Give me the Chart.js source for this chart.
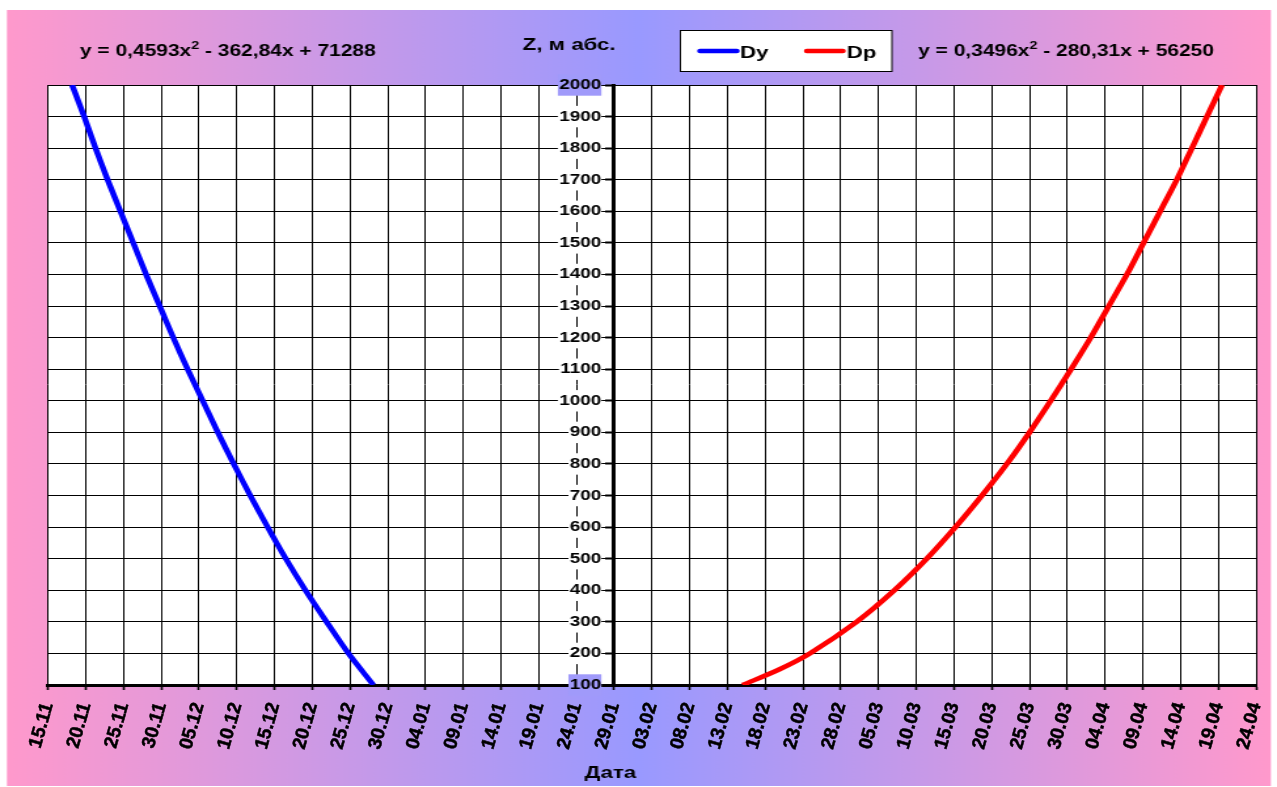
<!DOCTYPE html>
<html>
<head>
<meta charset="utf-8">
<script src="https://cdn.jsdelivr.net/npm/chart.js@4.4.1/dist/chart.umd.min.js"></script>
<style>
html, body { margin: 0; padding: 0; background: #fff; overflow: hidden; }
/* the reference is stretched sideways, so draw narrow and widen */
#wrap { position: absolute; left: 0; top: 0; width: 975px; height: 787px; transform: scaleX(1.30974); transform-origin: 0 0; }
/* date labels are not stretched in the reference, so they get their own layer */
#dateLabels { position: absolute; left: 0; top: 0; }
</style>
</head>
<body>
<div id="wrap"><canvas id="myChart" width="975" height="787"></canvas></div>
<canvas id="dateLabels" width="1277" height="787"></canvas>
<script>
const xTickLabels = [
	'15.11', '20.11', '25.11', '30.11', '05.12', '10.12', '15.12', '20.12', '25.12', '30.12',
	'04.01', '09.01', '14.01', '19.01', '24.01', '29.01', '03.02', '08.02', '13.02', '18.02',
	'23.02', '28.02', '05.03', '10.03', '15.03', '20.03', '25.03', '30.03', '04.04', '09.04',
	'14.04', '19.04', '24.04'
];

// days after 15.11, per height Z
const dyZ = [100, 200, 300, 400, 500, 600, 700, 800, 900, 1000,
	1100, 1200, 1300, 1400, 1500, 1600, 1700, 1800, 1900, 2000];
const dyDays = [43.1, 39.8, 36.9, 34.1, 31.5, 29.1, 26.8, 24.6, 22.5, 20.5,
	18.5, 16.6, 14.8, 13.0, 11.3, 9.6, 7.9, 6.3, 4.8, 3.2];

const dpZ = [100, 150, 200, 300, 400, 500, 600, 700, 800, 900, 1000,
	1100, 1200, 1300, 1400, 1500, 1600, 1700, 1800, 1900, 2000];
const dpDays = [92.0, 96.9, 100.9, 107.1, 112.1, 116.4, 120.2, 123.7, 127.0, 130.0, 132.8,
	135.5, 138.1, 140.5, 142.9, 145.1, 147.3, 149.5, 151.5, 153.5, 155.5];

const eqDy = ['y = 0,4593x', '2', ' - 362,84x + 71288'];
const eqDp = ['y = 0,3496x', '2', ' - 280,31x + 56250'];

const fam = '"Liberation Sans", Arial, Helvetica, sans-serif';
const pink = 'rgb(255,153,204)';
const blue = 'rgb(153,153,255)';

function toPoints(days, z) {
	return days.map((d, i) => ({x: d, y: z[i]}));
}

const bgColor = {
	id: 'bgColor',
	beforeDraw: (chart) => {
		const {ctx, width, height, chartArea} = chart;
		ctx.save();
		ctx.fillStyle = '#fff';
		ctx.fillRect(0, 0, width, height);
		const g = ctx.createLinearGradient(5, 0, 970, 0);
		g.addColorStop(0, pink);
		g.addColorStop(0.5, blue);
		g.addColorStop(1, pink);
		ctx.fillStyle = g;
		ctx.fillRect(5.3, 10, 965, 776);
		ctx.fillStyle = '#fff';
		ctx.fillRect(chartArea.left, chartArea.top, chartArea.right - chartArea.left, chartArea.bottom - chartArea.top);
		ctx.restore();
	}
};

function drawEq(ctx, x, y, parts) {
	ctx.font = 'bold 16px ' + fam;
	ctx.fillText(parts[0], x, y);
	let w = ctx.measureText(parts[0]).width;
	ctx.font = 'bold 11px ' + fam;
	ctx.fillText(parts[1], x + w, y - 7);
	w += ctx.measureText(parts[1]).width;
	ctx.font = 'bold 16px ' + fam;
	ctx.fillText(parts[2], x + w, y);
}

const texts = {
	id: 'texts',
	afterDraw: (chart) => {
		const ctx = chart.ctx;
		ctx.save();
		ctx.fillStyle = '#000';
		ctx.textBaseline = 'alphabetic';
		ctx.textAlign = 'left';
		drawEq(ctx, 61, 56, eqDy);
		drawEq(ctx, 701, 56, eqDp);
		ctx.font = 'bold 17px ' + fam;
		ctx.fillText('Z, м абс.', 399, 50);
		ctx.textAlign = 'center';
		ctx.fillText('Дата', 466, 778);

		// legend box
		ctx.fillStyle = '#fff';
		ctx.fillRect(519.5, 30.5, 161.5, 41);
		ctx.strokeStyle = '#000';
		ctx.lineWidth = 1;
		ctx.strokeRect(519.5, 30.5, 161.5, 41);
		const items = [[534.5, 562.5, 565], [616, 643.5, 646.5]];
		chart.data.datasets.forEach((ds, i) => {
			const it = items[i];
			ctx.strokeStyle = ds.borderColor;
			ctx.lineWidth = 4.5;
			ctx.lineCap = 'round';
			ctx.beginPath();
			ctx.moveTo(it[0], 51);
			ctx.lineTo(it[1], 51);
			ctx.stroke();
			ctx.fillStyle = '#000';
			ctx.textAlign = 'left';
			ctx.font = 'bold 17px ' + fam;
			ctx.fillText(ds.label, it[2], 57.5);
		});
		ctx.restore();
	}
};

const yTickOpts = {
	stepSize: 100,
	color: '#000',
	font: {family: fam, size: 14.5, weight: 'bold'},
	callback: (v) => String(v),
	showLabelBackdrop: true,
	backdropPadding: {top: 2, bottom: 2, left: 1, right: 0},
	backdropColor: (c) => (c.tick && (c.tick.value === 100 || c.tick.value === 2000)) ? 'rgb(160,154,250)' : '#fff'
};

const config = {
	type: 'scatter',
	data: {
		datasets: [{
			label: 'Dy',
			data: toPoints(dyDays, dyZ),
			borderColor: 'rgb(0,0,255)',
			backgroundColor: 'rgb(0,0,255)',
			borderWidth: 4.5,
			showLine: true,
			pointRadius: 0,
			tension: 0.3
		}, {
			label: 'Dp',
			data: toPoints(dpDays, dpZ),
			borderColor: 'rgb(255,0,0)',
			backgroundColor: 'rgb(255,0,0)',
			borderWidth: 4.5,
			showLine: true,
			pointRadius: 0,
			tension: 0.3
		}]
	},
	options: {
		responsive: false,
		animation: false,
		events: [],
		layout: {padding: {left: 36.6, right: 16, top: 85, bottom: 0}},
		plugins: {
			legend: {display: false},
			tooltip: {enabled: false}
		},
		scales: {
			x: {
				type: 'linear',
				min: 0,
				max: 160,
				afterFit: (s) => {
					s.height = 102;
					s.paddingLeft = 0;
					s.paddingRight = 0;
				},
				ticks: {stepSize: 5, autoSkip: false, display: false},
				grid: {color: '#000', lineWidth: 1, tickLength: 5, tickWidth: 1.6, tickColor: '#000'},
				border: {color: '#000', width: 3}
			},
			y: {
				type: 'linear',
				min: 100,
				max: 2000,
				position: {x: 75},
				ticks: {stepSize: 100, display: false},
				grid: {color: '#000', lineWidth: 1, tickLength: 5, tickWidth: 2, tickColor: '#000'},
				border: {color: '#000', width: 3}
			},
			// label column of the Z axis, sitting just left of its tick marks
			yLabels: {
				type: 'linear',
				axis: 'y',
				min: 100,
				max: 2000,
				position: {x: 73.3},
				ticks: yTickOpts,
				grid: {display: false},
				border: {display: false}
			}
		}
	},
	plugins: [bgColor, texts]
};

const myChart = new Chart(document.getElementById('myChart'), config);

// same date axis, unstretched, carrying only the tick labels
const labelChart = new Chart(document.getElementById('dateLabels'), {
	type: 'scatter',
	data: {datasets: []},
	options: {
		responsive: false,
		animation: false,
		events: [],
		layout: {padding: {left: 48, right: 21, top: 85, bottom: 0}},
		plugins: {legend: {display: false}, tooltip: {enabled: false}},
		scales: {
			x: {
				type: 'linear',
				min: 0,
				max: 160,
				afterFit: (s) => {
					s.height = 102;
					s.paddingLeft = 0;
					s.paddingRight = 0;
				},
				ticks: {
					stepSize: 5,
					autoSkip: false,
					maxRotation: 74,
					minRotation: 74,
					padding: 7,
					color: '#000',
					textStrokeColor: '#000',
					textStrokeWidth: 0.5,
					font: {family: fam, size: 19, weight: 'bold'},
					callback: (v) => xTickLabels[Math.round(v / 5)]
				},
				grid: {display: false},
				border: {display: false}
			},
			y: {display: false, min: 100, max: 2000}
		}
	}
});
</script>
</body>
</html>
